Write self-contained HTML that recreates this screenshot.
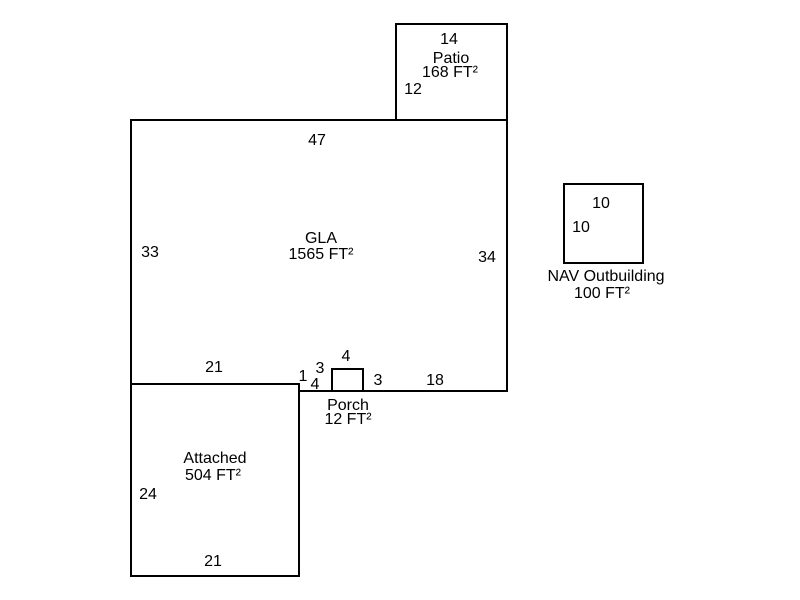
<!DOCTYPE html>
<html><head><style>body{margin:0;background:#fff}svg{display:block}text{font-family:"Liberation Sans",Arial,sans-serif;font-size:16px;fill:#000;text-anchor:middle}</style></head>
<body>
<svg width="800" height="600" viewBox="0 0 800 600">
<g fill="none" stroke="#000" stroke-width="2">
<polyline points="131,383 131,120 507,120 507,391 299,391"/>
<rect x="396" y="24" width="111" height="96"/>
<rect x="131" y="384" width="168" height="192"/>
<rect x="332" y="369" width="31" height="22"/>
<rect x="564" y="184" width="79" height="79"/>
</g>
<text x="449" y="44">14</text>
<text x="451" y="63">Patio</text>
<text x="450" y="77">168 FT²</text>
<text x="413" y="94">12</text>
<text x="317" y="145">47</text>
<text x="321" y="243">GLA</text>
<text x="321" y="259">1565 FT²</text>
<text x="150" y="257">33</text>
<text x="487" y="262">34</text>
<text x="601" y="208">10</text>
<text x="581" y="232">10</text>
<text x="606" y="281">NAV Outbuilding</text>
<text x="602" y="298">100 FT²</text>
<text x="214" y="372">21</text>
<text x="303" y="381">1</text>
<text x="320" y="373">3</text>
<text x="346" y="361">4</text>
<text x="315" y="389">4</text>
<text x="378" y="385">3</text>
<text x="435" y="385">18</text>
<text x="348" y="410">Porch</text>
<text x="348" y="424">12 FT²</text>
<text x="215" y="463">Attached</text>
<text x="213" y="480">504 FT²</text>
<text x="148" y="499">24</text>
<text x="213" y="566">21</text>
</svg>
</body></html>
